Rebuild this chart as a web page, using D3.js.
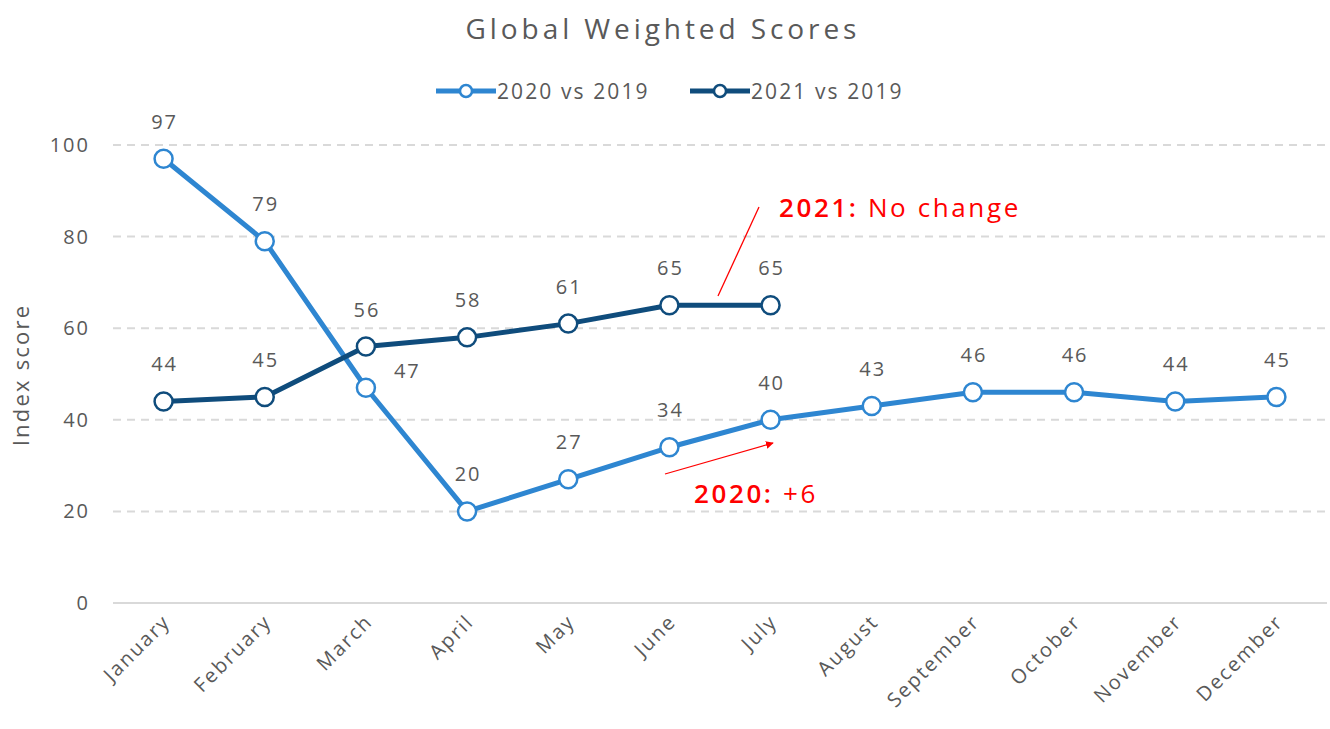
<!DOCTYPE html>
<html>
<head>
<meta charset="utf-8">
<script src="https://cdn.jsdelivr.net/npm/d3@7"></script>
<style>
  body { margin: 0; background: #fff; }
  text { font-family: "Open Sans", "DejaVu Sans", sans-serif; letter-spacing: 0.1em; }
</style>
</head>
<body>
<div id="chart"></div>
<script>
const months = ["January", "February", "March", "April", "May", "June", "July",
  "August", "September", "October", "November", "December"];
const scores2020 = [97, 79, 47, 20, 27, 34, 40, 43, 46, 46, 44, 45];
const scores2021 = [44, 45, 56, 58, 61, 65, 65];
const yTicks = [0, 20, 40, 60, 80, 100];

const width = 1330;
const height = 729;
const margin = { left: 113, right: 3, top: 145, bottom: 126 };

const svg = d3.select("#chart").append("svg")
  .attr("width", width)
  .attr("height", height);

const x = d3.scalePoint()
  .domain(months)
  .range([margin.left, width - margin.right])
  .padding(0.5);

const y = d3.scaleLinear()
  .domain([0, 100])
  .range([height - margin.bottom, margin.top]);

// Title
svg.append("text")
  .attr("x", 663).attr("y", 39)
  .attr("text-anchor", "middle")
  .style("font-size", "28px")
  .style("letter-spacing", "0.14em")
  .style("fill", "#595959")
  .text("Global Weighted Scores");

// Gridlines
svg.append("g")
  .selectAll("line")
  .data(yTicks.filter(d => d > 0))
  .join("line")
  .attr("x1", margin.left).attr("x2", width - margin.right)
  .attr("y1", d => y(d)).attr("y2", d => y(d))
  .attr("stroke", "#d9d9d9")
  .attr("stroke-width", 2)
  .attr("stroke-dasharray", "8,6");

// baseline
svg.append("line")
  .attr("x1", margin.left).attr("x2", width - margin.right)
  .attr("y1", y(0)).attr("y2", y(0))
  .attr("stroke", "#d9d9d9")
  .attr("stroke-width", 2);

// Y axis labels
svg.append("g")
  .selectAll("text")
  .data(yTicks)
  .join("text")
  .attr("x", 90)
  .attr("y", d => y(d) + 7)
  .attr("text-anchor", "end")
  .style("font-size", "20px")
  .style("fill", "#595959")
  .text(d => d);

svg.append("text")
  .attr("transform", "translate(29,375) rotate(-90)")
  .attr("text-anchor", "middle")
  .style("font-size", "22px")
  .style("fill", "#595959")
  .text("Index score");

// X axis labels
svg.append("g")
  .selectAll("text")
  .data(months)
  .join("text")
  .attr("transform", d => `translate(${x(d) + 8},${y(0) + 20}) rotate(-45)`)
  .attr("text-anchor", "end")
  .style("font-size", "20px")
  .style("fill", "#595959")
  .text(d => d);

const series = [
  { name: "2020 vs 2019", values: scores2020, color: "#2e86d1" },
  { name: "2021 vs 2019", values: scores2021, color: "#0f4c7c" }
];

const line = d3.line()
  .x((d, i) => x(months[i]))
  .y(d => y(d));

series.forEach(s => {
  svg.append("path")
    .datum(s.values)
    .attr("d", line)
    .attr("fill", "none")
    .attr("stroke", s.color)
    .attr("stroke-width", 5)
    .attr("stroke-linejoin", "round");

  svg.append("g")
    .selectAll("circle")
    .data(s.values)
    .join("circle")
    .attr("cx", (d, i) => x(months[i]))
    .attr("cy", d => y(d))
    .attr("r", 9)
    .attr("fill", "#fff")
    .attr("stroke", s.color)
    .attr("stroke-width", 2.5);
});

// Data labels
function labelAt(values, idxRight) {
  svg.append("g")
    .selectAll("text")
    .data(values)
    .join("text")
    .attr("x", (d, i) => i === idxRight ? x(months[i]) + 28 : x(months[i]) + 1)
    .attr("y", (d, i) => i === idxRight ? y(d) - 10 : y(d) - 30)
    .attr("text-anchor", (d, i) => i === idxRight ? "start" : "middle")
    .style("font-size", "20px")
    .style("fill", "#595959")
    .text(d => d);
}
labelAt(scores2020, 2);
labelAt(scores2021, -1);

// Legend
const legend = svg.append("g").attr("transform", "translate(436,91)");
series.forEach((s, i) => {
  const g = legend.append("g").attr("transform", `translate(${i * 254},0)`);
  g.append("line").attr("x1", 0).attr("x2", 60)
    .attr("stroke", s.color).attr("stroke-width", 5);
  g.append("circle").attr("cx", 30).attr("r", 6)
    .attr("fill", "#fff").attr("stroke", s.color).attr("stroke-width", 2.5);
  g.append("text").attr("x", 61).attr("y", 8)
    .style("font-size", "21px").style("fill", "#595959")
    .text(s.name);
});

// Annotations
const red = "#ff0000";
svg.append("defs").append("marker")
  .attr("id", "arrow")
  .attr("viewBox", "0 0 10 10")
  .attr("refX", 9).attr("refY", 5)
  .attr("markerWidth", 6).attr("markerHeight", 6)
  .attr("orient", "auto")
  .append("path").attr("d", "M0,0L10,5L0,10Z").attr("fill", red);

svg.append("line")
  .attr("x1", 718).attr("y1", 296).attr("x2", 759).attr("y2", 207)
  .attr("stroke", red).attr("stroke-width", 1.3);

const t1 = svg.append("text").attr("x", 779).attr("y", 217)
  .style("font-size", "26px").style("fill", red);
t1.append("tspan").style("font-weight", "600").text("2021:");
t1.append("tspan").text(" No change");

svg.append("line")
  .attr("x1", 665).attr("y1", 474).attr("x2", 773).attr("y2", 443)
  .attr("stroke", red).attr("stroke-width", 1.3)
  .attr("marker-end", "url(#arrow)");

const t2 = svg.append("text").attr("x", 694).attr("y", 503)
  .style("font-size", "26px").style("fill", red);
t2.append("tspan").style("font-weight", "600").text("2020:");
t2.append("tspan").text(" +6");
</script>
</body>
</html>
